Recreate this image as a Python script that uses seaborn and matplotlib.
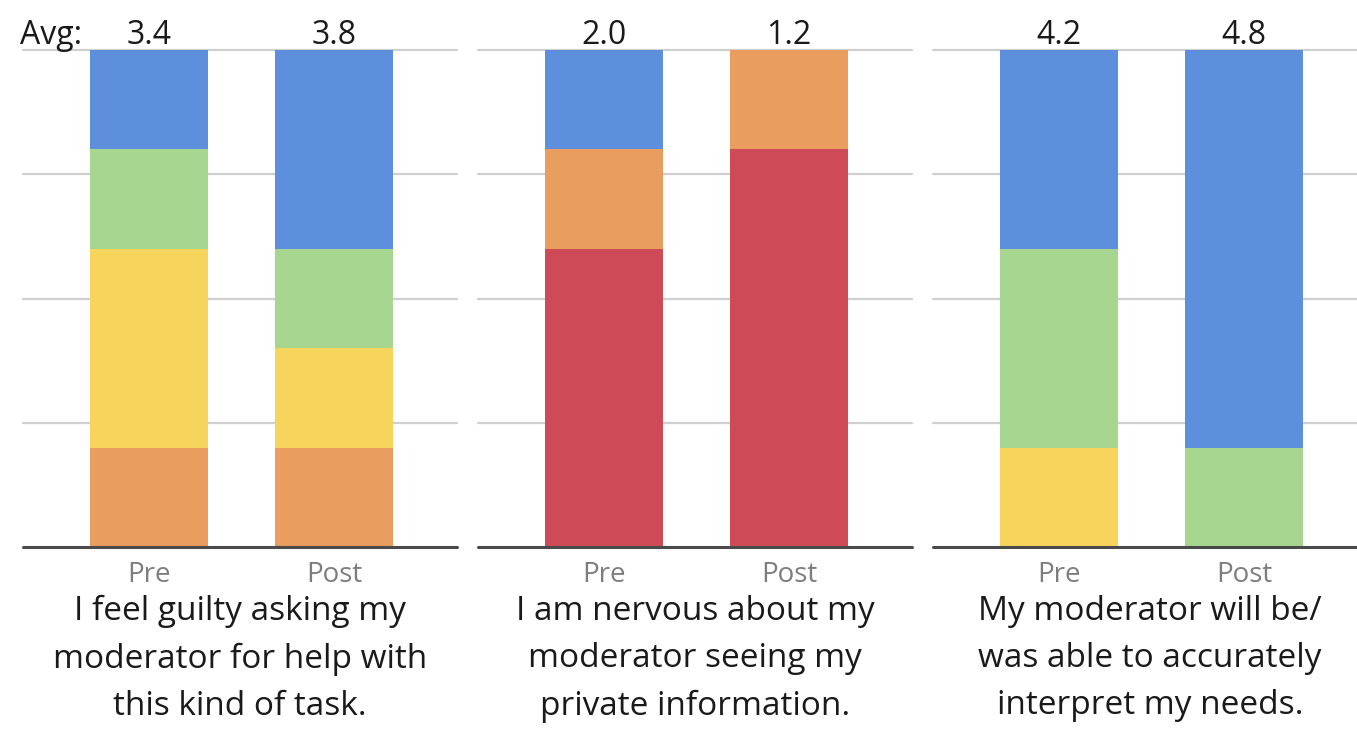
import numpy as np
import pandas as pd
import matplotlib
matplotlib.use("Agg")
import matplotlib.pyplot as plt
import seaborn as sns

# Survey statements and response phases
questions = [
    "I feel guilty asking my\nmoderator for help with\nthis kind of task.",
    "I am nervous about my\nmoderator seeing my\nprivate information.",
    "My moderator will be/\nwas able to accurately\ninterpret my needs.",
]
phases = ["Pre", "Post"]
scores = [1, 2, 3, 4, 5]

# Share of responses (%) at each Likert score 1..5
q1_pre = [0, 20, 40, 20, 20]
q1_post = [0, 20, 20, 20, 40]
q2_pre = [60, 20, 0, 0, 20]
q2_post = [80, 20, 0, 0, 0]
q3_pre = [0, 0, 20, 40, 40]
q3_post = [0, 0, 0, 20, 80]

score_colors = {1: "#CE4A57", 2: "#E99D5E", 3: "#F7D45C", 4: "#A6D68F", 5: "#5E8FDC"}

shares = [(q1_pre, q1_post), (q2_pre, q2_post), (q3_pre, q3_post)]
rows = []
for qi, (pre, post) in enumerate(shares):
    for phase, vals in zip(phases, (pre, post)):
        cum = np.cumsum(vals)
        for s, v, c in zip(scores, vals, cum):
            rows.append({"question": qi, "phase": phase, "score": s,
                         "share": v, "cum": c})
df = pd.DataFrame(rows)

sns.set_theme(style="white")
plt.rcParams["font.family"] = ["Open Sans", "DejaVu Sans"]

W, H = 1357, 729
fig = plt.figure(figsize=(W / 100, H / 100), dpi=100)
fig.patch.set_facecolor("white")

panel_left = [23, 478, 933]
panel_w = 434
ax_top, ax_bottom = 50, 547
ax_h = ax_bottom - ax_top

for qi in range(3):
    ax = fig.add_axes([panel_left[qi] / W, 1 - ax_bottom / H,
                       panel_w / W, ax_h / H])
    ax.set_facecolor("white")
    sub = df[df["question"] == qi]

    # gridlines behind the bars
    for g in [25, 50, 75, 100]:
        ax.axhline(g, color="#cfcfcf", lw=1.6, zorder=0, clip_on=False)

    # stacked bars: draw cumulative totals from the top score down
    for s in reversed(scores):
        part = sub[sub["score"] == s]
        sns.barplot(data=part, x="phase", y="cum", order=phases,
                    color=score_colors[s], saturation=1, width=0.638,
                    linewidth=0, ax=ax, zorder=2, errorbar=None)

    ax.axhline(0, color="#4a4a4a", lw=2.2, zorder=3, clip_on=False)
    ax.set_xlim(-0.681, 1.665)
    ax.set_ylim(0, 100)
    ax.set_ylabel("")
    ax.set_xlabel("")
    ax.set_yticks([])
    ax.tick_params(axis="x", length=0, pad=10, labelsize=20, labelcolor="#7d7d7d")
    for sp in ax.spines.values():
        sp.set_visible(False)

    # average score above each bar
    for xi, phase in enumerate(phases):
        p = sub[sub["phase"] == phase]
        avg = (p["score"] * p["share"]).sum() / p["share"].sum()
        ax.text(xi, 101.2, f"{avg:.1f}", ha="center", va="baseline",
                fontsize=23, color="#1a1a1a")

    ax.text(0.5, -(595 - ax_bottom) / ax_h, questions[qi], transform=ax.transAxes,
            ha="center", va="top", fontsize=24, color="#1a1a1a",
            linespacing=1.57)

    if qi == 0:
        ax.text(-0.697, 101.2, "Avg:", ha="left", va="baseline",
                fontsize=23, color="#1a1a1a")

fig.savefig("out.png", dpi=100, facecolor="white")
